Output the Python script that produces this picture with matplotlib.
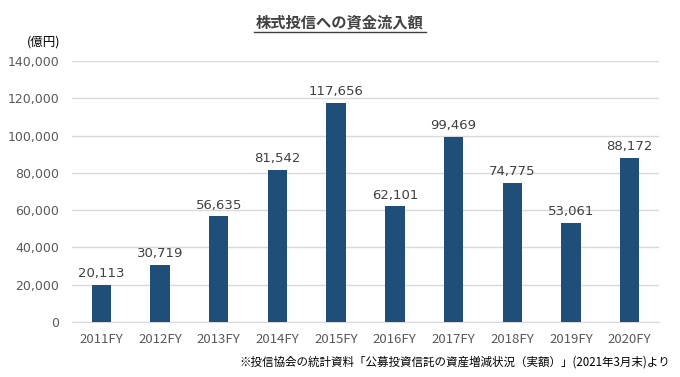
import matplotlib
matplotlib.use("Agg")
import matplotlib.pyplot as plt
from matplotlib.lines import Line2D

plt.rcParams['font.family'] = ['Noto Sans CJK JP', 'DejaVu Sans']

categories = ["2011FY", "2012FY", "2013FY", "2014FY", "2015FY",
              "2016FY", "2017FY", "2018FY", "2019FY", "2020FY"]
values = [20113, 30719, 56635, 81542, 117656, 62101, 99469, 74775, 53061, 88172]
yticks = [0, 20000, 40000, 60000, 80000, 100000, 120000, 140000]

title = "株式投信への資金流入額"
unit = "(億円)"
note = "※投信協会の統計資料「公募投資信託の資産増減状況（実額）」(2021年3月末)より"

fig = plt.figure(figsize=(6.8, 3.77), dpi=100)
ax = fig.add_axes([72/680, 1-322/377, (659-72)/680, (322-61)/377])

x = range(len(categories))
ax.bar(x, values, width=0.33, color="#1F4E79", zorder=3)
for xi, v in zip(x, values):
    ax.text(xi, v + 2500, f"{v:,}", ha="center", va="bottom", fontsize=9.5,
            color="#404040", family="DejaVu Sans")

ax.set_xlim(-0.5, len(categories) - 0.5)
ax.set_ylim(0, 140000)
ax.set_yticks(yticks)
ax.set_yticklabels([f"{t:,}" for t in yticks], family="DejaVu Sans")
ax.set_xticks(list(x))
ax.set_xticklabels(categories)
ax.tick_params(axis="both", length=0, labelsize=9.5, labelcolor="#595959")
ax.tick_params(axis="y", pad=9, labelsize=9)
ax.tick_params(axis="x", pad=8)
ax.grid(axis="y", color="#D9D9D9", linewidth=1, zorder=0)
for s in ["top", "right", "left"]:
    ax.spines[s].set_visible(False)
ax.spines["bottom"].set_color("#D9D9D9")

fig.text(340/680, 1-22/377, title, ha="center", va="center", fontsize=11,
         fontweight="bold", color="#404040")
fig.add_artist(Line2D([254/680, 426/680], [1-32/377, 1-32/377], color="#404040", linewidth=1))
fig.text(44/680, 1-42/377, unit, ha="center", va="center", fontsize=9, color="#000000")
fig.text(670/680, 1-362/377, note, ha="right", va="center", fontsize=8.3, color="#000000")

fig.savefig("out.png", dpi=100)
